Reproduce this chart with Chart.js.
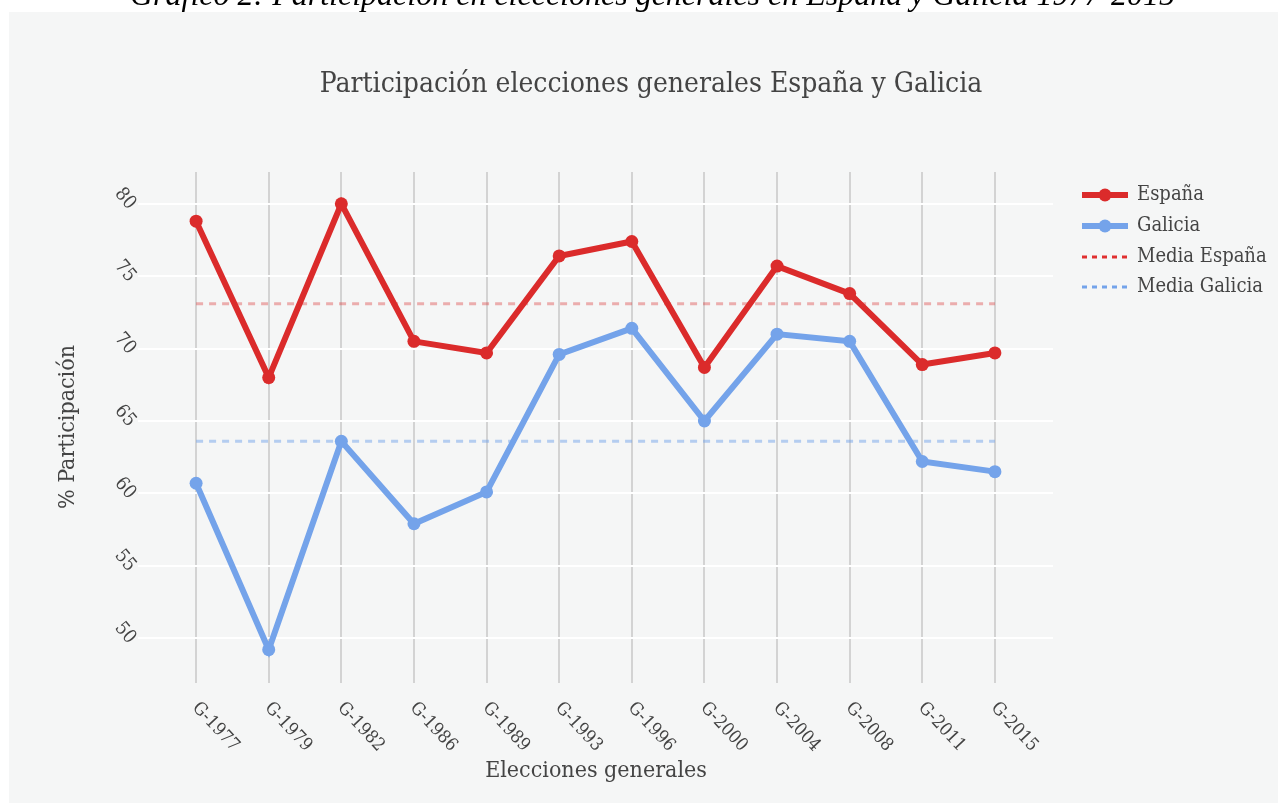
<!DOCTYPE html>
<html><head><meta charset="utf-8">
<script src="https://cdn.jsdelivr.net/npm/chart.js@4.4.1/dist/chart.umd.min.js"></script>
<style>html,body{margin:0;padding:0;background:#fff;overflow:hidden}#wrap{position:absolute;left:0;top:0;width:1278px;height:803px}</style>
</head><body><div id="wrap"><canvas id="c" width="1278" height="803"></canvas></div>
<script>
const categories = ['G-1977','G-1979','G-1982','G-1986','G-1989','G-1993','G-1996','G-2000','G-2004','G-2008','G-2011','G-2015'];
const espana = [78.8,68.0,80.0,70.5,69.7,76.4,77.4,68.7,75.7,73.8,68.9,69.7];
const galicia = [60.7,49.2,63.6,57.9,60.1,69.6,71.4,65.0,71.0,70.5,62.2,61.5];
const mediaEspana = [73.1,73.1,73.1,73.1,73.1,73.1,73.1,73.1,73.1,73.1,73.1,73.1];
const mediaGalicia = [63.6,63.6,63.6,63.6,63.6,63.6,63.6,63.6,63.6,63.6,63.6,63.6];
const yTicks = [50,55,60,65,70,75,80];
const seriesNames = ['España','Galicia','Media España','Media Galicia'];
const caption = 'Gráfico 2: Participación en elecciones generales en España y Galicia 1977-2015';
const titleText = 'Participación elecciones generales España y Galicia';
const xTitle = 'Elecciones generales';
const yTitle = '% Participación';

const RED = '#db2b2b', BLUE = '#74a3ea';
const SERIF = "'DejaVu Serif Condensed','DejaVu Serif',serif";
const TXT = '#444444';

function pts(arr){ return arr.map((v,i)=>({x:i,y:v})); }

const textPlugin = {
  id:'textPlugin',
  beforeDraw(chart){
    const ctx = chart.ctx;
    ctx.save();
    ctx.fillStyle = '#000';
    ctx.font = "italic 32px 'Liberation Serif',serif";
    ctx.textBaseline = 'alphabetic';
    ctx.textAlign = 'left';
    ctx.fillText(caption, 130, 5);
    ctx.fillStyle = '#f5f6f6';
    ctx.fillRect(9, 12, 1278-9, 803-12);
    ctx.restore();
  },
  afterDraw(chart){
    const ctx = chart.ctx, xs = chart.scales.x, ys = chart.scales.y;
    ctx.save();
    ctx.fillStyle = TXT;
    // title
    ctx.font = '28px ' + SERIF;
    ctx.textAlign = 'center'; ctx.textBaseline = 'alphabetic';
    ctx.fillText(titleText, 651, 92);
    // y ticks
    ctx.font = '19px ' + SERIF;
    yTicks.forEach(v=>{
      const y = ys.getPixelForValue(v);
      ctx.save();
      ctx.translate(125, y-5);
      ctx.rotate(50*Math.PI/180);
      ctx.textAlign='center'; ctx.textBaseline='middle';
      ctx.fillText(String(v),0,0);
      ctx.restore();
    });
    // x ticks
    ctx.font = '18px ' + SERIF;
    categories.forEach((c,i)=>{
      const x = xs.getPixelForValue(i);
      ctx.save();
      ctx.translate(x-1, 705);
      ctx.rotate(47*Math.PI/180);
      ctx.textAlign='left'; ctx.textBaseline='middle';
      ctx.fillText(c,0,0);
      ctx.restore();
    });
    // axis titles
    ctx.font = '23px ' + SERIF;
    ctx.textAlign='center'; ctx.textBaseline='middle';
    ctx.fillText(xTitle, 596, 771);
    ctx.save();
    ctx.translate(68, 427);
    ctx.rotate(-Math.PI/2);
    ctx.fillText(yTitle, 0, 0);
    ctx.restore();
    // legend
    const rows = [195,226,257,287];
    chart.data.datasets.forEach((ds,i)=>{
      const y = rows[i];
      ctx.save();
      ctx.strokeStyle = ds.legendColor;
      const dashed = ds.borderDash && ds.borderDash.length;
      if(dashed){ ctx.lineWidth = 3; ctx.setLineDash([5,5]); }
      else { ctx.lineWidth = 6; }
      ctx.beginPath(); ctx.moveTo(1082,y); ctx.lineTo(1128,y); ctx.stroke();
      if(!dashed){
        ctx.fillStyle = ds.legendColor;
        ctx.beginPath(); ctx.arc(1105,y,6.5,0,Math.PI*2); ctx.fill();
      }
      ctx.restore();
      ctx.font = '20px ' + SERIF;
      ctx.textAlign='left'; ctx.textBaseline='middle';
      ctx.fillStyle = TXT;
      ctx.fillText(ds.label, 1137, y);
    });
    ctx.restore();
  }
};

new Chart(document.getElementById('c'), {
  type:'line',
  data:{datasets:[
    {label:seriesNames[0], data:pts(espana), borderColor:RED, backgroundColor:RED, legendColor:RED, borderWidth:6, pointRadius:6.5, pointBorderWidth:0, pointBackgroundColor:RED, tension:0, order:1},
    {label:seriesNames[1], data:pts(galicia), borderColor:BLUE, backgroundColor:BLUE, legendColor:BLUE, borderWidth:6, pointRadius:6.5, pointBorderWidth:0, pointBackgroundColor:BLUE, tension:0, order:2},
    {label:seriesNames[2], data:pts(mediaEspana), borderColor:'rgba(219,43,43,0.36)', legendColor:'#e03030', borderWidth:3, borderDash:[7,6], pointRadius:0, tension:0, order:3},
    {label:seriesNames[3], data:pts(mediaGalicia), borderColor:'rgba(116,163,234,0.5)', legendColor:'#74a3ea', borderWidth:3, borderDash:[7,6], pointRadius:0, tension:0, order:4}
  ]},
  options:{
    responsive:false, animation:false, devicePixelRatio:1,
    layout:{padding:{left:138, top:172, right:225, bottom:120}},
    plugins:{legend:{display:false}, title:{display:false}, tooltip:{enabled:false}},
    scales:{
      x:{type:'linear', min:-0.8, max:11.8,
         afterBuildTicks:s=>{ s.ticks = categories.map((c,i)=>({value:i})); },
         ticks:{display:false}, grid:{color:'#d3d3d3', lineWidth:2, drawTicks:false}, border:{display:false}},
      y:{type:'linear', min:46.9, max:82.2,
         afterBuildTicks:s=>{ s.ticks = yTicks.map(v=>({value:v})); },
         ticks:{display:false}, grid:{color:'#ffffff', lineWidth:2, drawTicks:false}, border:{display:false}}
    }
  },
  plugins:[textPlugin]
});
</script></body></html>
